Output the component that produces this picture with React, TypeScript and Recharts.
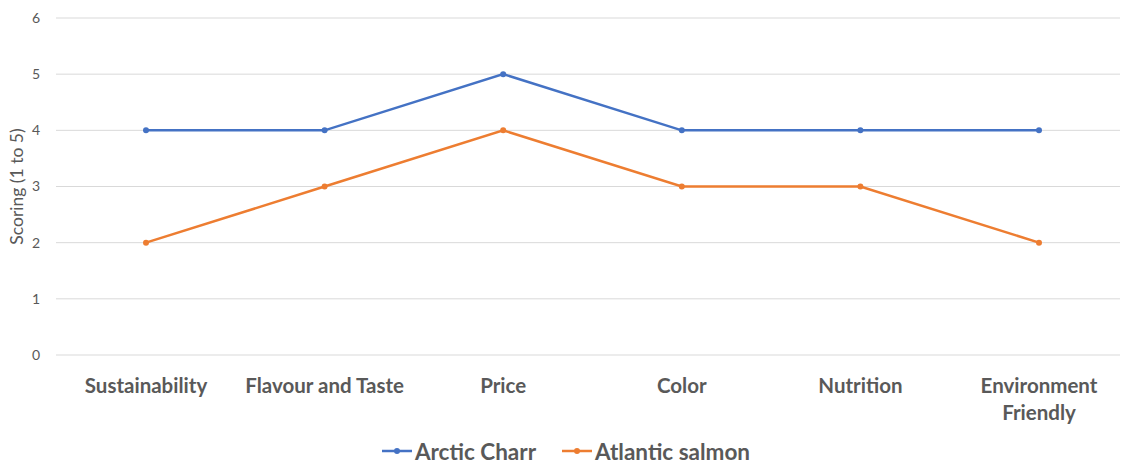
import { CartesianGrid, Legend, Line, LineChart, XAxis, YAxis } from "recharts"

// criteria along the x axis
const criteria = ["Sustainability", "Flavour and Taste", "Price", "Color", "Nutrition", "Environment Friendly"]

// scores
const arcticCharr = [4, 4, 5, 4, 4, 4]
const atlanticSalmon = [2, 3, 4, 3, 3, 2]

const yTicks = [0, 1, 2, 3, 4, 5, 6]

const BLUE = "#4472C4"
const ORANGE = "#ED7D31"
const GREY = "#595959"
const FONT = "Lato, 'Open Sans', sans-serif"

const data = criteria.map((name, i) => ({
  name,
  "Arctic Charr": arcticCharr[i],
  "Atlantic salmon": atlanticSalmon[i],
}))

// greedy word wrap, ~18 chars per line
const wrap = (label: string, max = 18) => {
  const lines: string[] = []
  let cur = ""
  for (const w of label.split(" ")) {
    const next = cur ? cur + " " + w : w
    if (next.length > max && cur) {
      lines.push(cur)
      cur = w
    } else {
      cur = next
    }
  }
  if (cur) lines.push(cur)
  return lines
}

const CategoryTick = (props: any) => {
  const { x, y, payload } = props
  const lines = wrap(payload.value)
  return (
    <text
      x={x}
      y={y + 14}
      textAnchor="middle"
      dominantBaseline="hanging"
      fill={GREY}
      fontSize={20.5}
      fontWeight={700}
      fontFamily={FONT}
    >
      {lines.map((l, i) => (
        <tspan key={i} x={x} dy={i === 0 ? 0 : 27}>
          {l}
        </tspan>
      ))}
    </text>
  )
}

const LegendContent = (props: any) => {
  const { payload } = props
  return (
    <div style={{ display: "flex", justifyContent: "center", gap: 26, fontFamily: FONT, height: 28, alignItems: "center", paddingLeft: 12 }}>
      {payload.map((entry: any) => (
        <div key={entry.value} style={{ display: "flex", alignItems: "center" }}>
          <svg width={30} height={10} style={{ marginRight: 3 }}>
            <line x1={0} y1={5} x2={30} y2={5} stroke={entry.color} strokeWidth={2.5} />
            <circle cx={15} cy={5} r={3} fill={entry.color} />
          </svg>
          <span style={{ color: GREY, fontSize: 22.5, fontWeight: 700 }}>{entry.value}</span>
        </div>
      ))}
    </div>
  )
}

export default function App() {
  return (
    <div style={{ position: "absolute", top: 0, left: 0, background: "#fff" }}>
      <LineChart width={1121} height={465} data={data} margin={{ top: 18, right: 1, left: 0, bottom: 12 }}>
        <CartesianGrid vertical={false} stroke="#d9d9d9" strokeWidth={1} />
        <XAxis
          dataKey="name"
          axisLine={false}
          tickLine={false}
          height={70}
          interval={0}
          padding={{ left: 90, right: 81 }}
          tick={<CategoryTick />}
        />
        <YAxis
          domain={[0, 6]}
          ticks={yTicks}
          width={56}
          axisLine={false}
          tickLine={false}
          tickMargin={10}
          tick={{ fill: GREY, fontSize: 14, fontFamily: FONT }}
          label={{
            value: "Scoring (1 to 5)",
            angle: -90,
            position: "insideLeft",
            dx: 12,
            style: { fill: GREY, fontSize: 17.5, fontFamily: FONT, textAnchor: "middle" },
          }}
        />
        <Legend verticalAlign="bottom" height={28} wrapperStyle={{ bottom: 0 }} content={<LegendContent />} />
        <Line
          dataKey="Arctic Charr"
          stroke={BLUE}
          strokeWidth={2.5}
          dot={{ r: 3, fill: BLUE, stroke: BLUE, strokeWidth: 0 }}
          activeDot={false}
          isAnimationActive={false}
        />
        <Line
          dataKey="Atlantic salmon"
          stroke={ORANGE}
          strokeWidth={2.5}
          dot={{ r: 3, fill: ORANGE, stroke: ORANGE, strokeWidth: 0 }}
          activeDot={false}
          isAnimationActive={false}
        />
      </LineChart>
    </div>
  )
}
